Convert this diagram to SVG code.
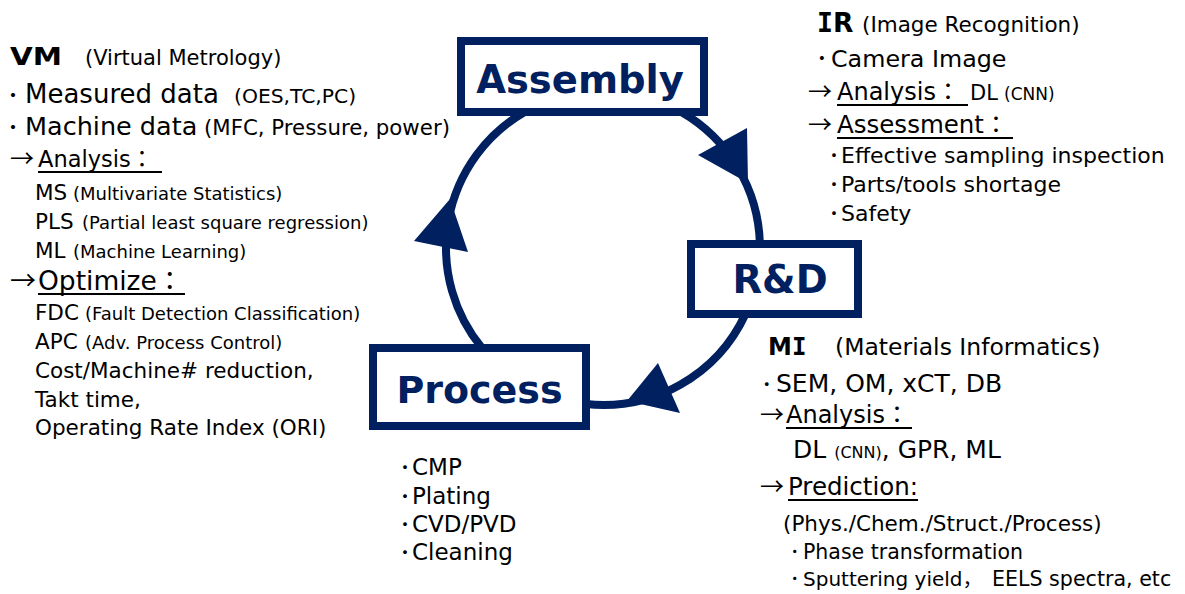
<svg xmlns="http://www.w3.org/2000/svg" width="1185" height="594" viewBox="0 0 1185 594">
  <style>
    .t { font-family: "DejaVu Sans", "Noto Sans CJK JP", sans-serif; fill: #000; }
    .j { font-family: "Noto Sans CJK JP", sans-serif; }
    .jb { font-family: "Noto Sans CJK JP", sans-serif; font-weight: bold; }
    .b { font-weight: bold; }
    .mono { font-family: "DejaVu Sans Mono", monospace; font-weight: bold; }
    .box { fill: #fff; stroke: #002060; stroke-width: 8; }
    .lbl { font-family: "DejaVu Sans", sans-serif; font-weight: bold; fill: #002060; text-anchor: middle; }
    .arc { fill: none; stroke: #002060; stroke-width: 8; }
    .head { fill: #002060; }
    .ul { stroke: #000; stroke-width: 1.8; }
  </style>

  <rect width="1185" height="594" fill="#fff"/>

  <!-- cycle connectors: arcs on one circle (c = 603,248, r = 157) with triangular heads -->
  <g id="connectors">
    <path id="assembly-to-rd" class="arc" d="M 681.4 112 A 157 157 0 0 1 759.9 244"/>
    <polygon class="head" points="698,155 747,128 748,183"/>
    <path id="rd-to-process" class="arc" d="M 745.5 314 A 157 157 0 0 1 586 404.1"/>
    <polygon class="head" points="658,363 680,413 627,401"/>
    <path id="process-to-assembly" class="arc" d="M 482 348 A 157 157 0 0 1 524.6 112"/>
    <polygon class="head" points="414,241 468,252 450,199"/>
  </g>

  <g id="assembly">
    <rect class="box" x="461" y="41" width="243" height="71"/>
    <text class="lbl" x="580" y="93" font-size="38.5">Assembly</text>
  </g>

  <g id="rd">
    <rect class="box" x="691" y="244" width="167" height="70"/>
    <text class="lbl" x="780" y="293" font-size="38.5">R&amp;D</text>
  </g>

  <g id="process">
    <rect class="box" x="373" y="348" width="213" height="78"/>
    <text class="lbl" x="479.5" y="403" font-size="38">Process</text>
  </g>

  <!-- Virtual Metrology notes -->
  <g id="vm">
    <text class="t b" x="10" y="65" font-size="25" textLength="52" lengthAdjust="spacingAndGlyphs">VM</text>
    <text class="t" x="85" y="65" font-size="21">(Virtual Metrology)</text>
    <text class="t" y="103"><tspan class="jb" x="7.75" font-size="21">･</tspan><tspan x="25" font-size="26">Measured data</tspan><tspan x="234" font-size="20.3">(OES,TC,PC)</tspan></text>
    <text class="t" y="135"><tspan class="jb" x="7.75" font-size="21">･</tspan><tspan x="25" font-size="25.5">Machine data</tspan><tspan x="204" font-size="21.3">(MFC, Pressure, power)</tspan></text>
    <text class="t" y="167"><tspan class="j" x="10" font-size="24">→</tspan><tspan x="38" font-size="22.5">Analysis</tspan><tspan class="j" font-size="22.5">：</tspan></text>
    <line class="ul" x1="38" y1="172" x2="162" y2="172"/>
    <text class="t" y="200"><tspan x="35" font-size="21.5">MS</tspan><tspan x="73" font-size="18">(Multivariate Statistics)</tspan></text>
    <text class="t" y="229"><tspan x="35" font-size="21.5">PLS</tspan><tspan x="82" font-size="18">(Partial least square regression)</tspan></text>
    <text class="t" y="258"><tspan x="35" font-size="21.5">ML</tspan><tspan x="73" font-size="18">(Machine Learning)</tspan></text>
    <text class="t" y="290"><tspan class="j" x="10" font-size="26">→</tspan><tspan x="38" font-size="26.5">Optimize</tspan><tspan class="j" font-size="26">：</tspan></text>
    <line class="ul" x1="38" y1="294" x2="185" y2="294"/>
    <text class="t" y="320"><tspan x="35" font-size="21.5">FDC</tspan><tspan x="85" font-size="18">(Fault Detection Classification)</tspan></text>
    <text class="t" y="349"><tspan x="35" font-size="21.5">APC</tspan><tspan x="85" font-size="18">(Adv. Process Control)</tspan></text>
    <text class="t" x="35" y="378" font-size="21.5">Cost/Machine# reduction,</text>
    <text class="t" x="35" y="407" font-size="21.5">Takt time,</text>
    <text class="t" x="35" y="435" font-size="21.5">Operating Rate Index (ORI)</text>
  </g>

  <!-- Image Recognition notes -->
  <g id="ir">
    <text class="t b" x="817" y="32" font-size="26.5"><tspan class="mono">I</tspan>R</text>
    <text class="t" x="862" y="32" font-size="21.5">(Image Recognition)</text>
    <text class="t" y="67"><tspan class="j" x="816" font-size="23.5">･</tspan><tspan x="831" font-size="23.8">Camera Image</tspan></text>
    <text class="t" y="100"><tspan class="j" x="808" font-size="24">→</tspan><tspan x="837" font-size="24">Analysis</tspan><tspan class="j" font-size="24">：</tspan><tspan x="970" font-size="21">DL</tspan><tspan x="1004" font-size="17">(CNN)</tspan></text>
    <line class="ul" x1="837" y1="105" x2="968" y2="105"/>
    <text class="t" y="133"><tspan class="j" x="808" font-size="24">→</tspan><tspan x="837" font-size="24.5">Assessment</tspan><tspan class="j" font-size="24">：</tspan></text>
    <line class="ul" x1="837" y1="138" x2="1013" y2="138"/>
    <text class="t" y="163"><tspan class="j" x="828.5" font-size="22">･</tspan><tspan x="841" font-size="22">Effective sampling inspection</tspan></text>
    <text class="t" y="192"><tspan class="j" x="828.5" font-size="22">･</tspan><tspan x="841" font-size="22">Parts/tools shortage</tspan></text>
    <text class="t" y="221"><tspan class="j" x="828.5" font-size="22">･</tspan><tspan x="841" font-size="22">Safety</tspan></text>
  </g>

  <!-- Materials Informatics notes -->
  <g id="mi">
    <text class="t b" x="768" y="355" font-size="24">M<tspan class="mono">I</tspan></text>
    <text class="t" x="835" y="355" font-size="23.5">(Materials Informatics)</text>
    <text class="t" y="392"><tspan class="jb" x="762" font-size="19">･</tspan><tspan x="776" font-size="25">SEM, OM, xCT, DB</tspan></text>
    <text class="t" y="423"><tspan class="j" x="760" font-size="24">→</tspan><tspan x="786" font-size="24">Analysis</tspan><tspan class="j" font-size="24">：</tspan></text>
    <line class="ul" x1="786" y1="428" x2="912" y2="428"/>
    <text class="t" x="793" y="458"><tspan font-size="25">DL </tspan><tspan font-size="16">(CNN)</tspan><tspan font-size="25">, GPR, ML</tspan></text>
    <text class="t" y="495"><tspan class="j" x="760" font-size="24">→</tspan><tspan x="788" font-size="24.5">Prediction:</tspan></text>
    <line class="ul" x1="788" y1="500" x2="918" y2="500"/>
    <text class="t" x="783" y="531" font-size="21.5">(Phys./Chem./Struct./Process)</text>
    <text class="t" y="559"><tspan class="j" x="790" font-size="19">･</tspan><tspan x="803" font-size="20.5">Phase transformation</tspan></text>
    <text class="t" y="586"><tspan class="j" x="790" font-size="19">･</tspan><tspan x="803" font-size="20">Sputtering yield</tspan><tspan class="j" font-size="20">，</tspan><tspan x="992" font-size="20.6">EELS spectra, etc</tspan></text>
  </g>

  <!-- process steps under the Process box -->
  <g id="process-steps">
    <text class="t" y="475"><tspan class="jb" x="400.25" font-size="19">･</tspan><tspan x="412" font-size="23">CMP</tspan></text>
    <text class="t" y="504"><tspan class="jb" x="400.25" font-size="19">･</tspan><tspan x="412" font-size="23">Plating</tspan></text>
    <text class="t" y="532"><tspan class="jb" x="400.25" font-size="19">･</tspan><tspan x="412" font-size="23">CVD/PVD</tspan></text>
    <text class="t" y="560"><tspan class="jb" x="400.25" font-size="19">･</tspan><tspan x="412" font-size="23">Cleaning</tspan></text>
  </g>
</svg>
